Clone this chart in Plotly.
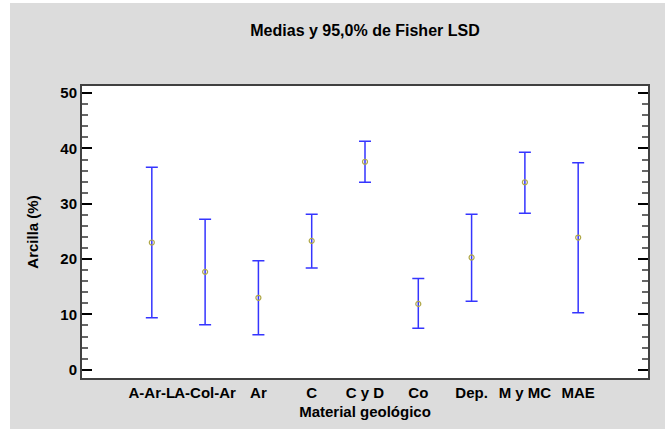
import plotly.graph_objects as go

categories = ["A-Ar-L", "A-Col-Ar", "Ar", "C", "C y D", "Co", "Dep.", "M y MC", "MAE"]
means = [23.0, 17.7, 13.0, 23.3, 37.6, 11.9, 20.3, 33.9, 23.9]
lower = [9.4, 8.15, 6.3, 18.4, 33.9, 7.5, 12.4, 28.3, 10.3]
upper = [36.6, 27.2, 19.7, 28.1, 41.3, 16.5, 28.1, 39.3, 37.4]

W, H = 665, 429
L, R, T, B = 82, 17, 86, 51
pw, ph = W - L - R, H - T - B

def px_x(p):
    return (p - L) / pw

def px_y(p):
    return (H - B - p) / ph

FONT = "Liberation Sans, Arial, sans-serif"
FS = 15

fig = go.Figure()
fig.add_trace(go.Scatter(
    x=categories, y=means, mode="markers",
    marker=dict(symbol="circle-open", size=5, color="#b0a848", line=dict(width=1.2, color="#b0a848")),
    error_y=dict(type="data", symmetric=False,
                 array=[u - m for u, m in zip(upper, means)],
                 arrayminus=[m - l for m, l in zip(means, lower)],
                 color="#3535ff", thickness=1.5, width=6),
    showlegend=False,
))

fig.update_layout(
    width=W, height=H,
    margin=dict(l=L, r=R, t=T, b=B, pad=0),
    paper_bgcolor="#dcdcdc", plot_bgcolor="white",
    title=dict(text="Medias y 95,0% de Fisher LSD", x=0.5, xref="paper", xanchor="center",
               y=1 - 30 / H, yref="container", yanchor="middle",
               font=dict(family=FONT, size=16, color="black", weight="bold")),
    shapes=[
        dict(type="rect", xref="paper", yref="paper", x0=px_x(0), x1=px_x(10), y0=px_y(H), y1=px_y(0),
             fillcolor="white", line=dict(width=0), layer="below"),
        dict(type="rect", xref="paper", yref="paper", x0=px_x(0), x1=px_x(W), y0=px_y(3), y1=px_y(0),
             fillcolor="white", line=dict(width=0), layer="below"),
    ],
)

fig.update_xaxes(
    type="category", range=[-1.31, 9.31], showgrid=False, zeroline=False,
    showline=True, linecolor="#404040", linewidth=2, mirror=True, ticks="",
    tickangle=0, tickfont=dict(family=FONT, size=FS, color="black", weight="bold"),
    title=dict(text="Material geológico", standoff=6,
               font=dict(family=FONT, size=FS, color="black", weight="bold")),
)
fig.update_yaxes(
    range=[-1.5, 51.3], tickvals=[0, 10, 20, 30, 40, 50], showgrid=False, zeroline=False,
    showline=True, linecolor="#404040", linewidth=2, mirror="allticks",
    ticks="inside", ticklen=10, tickwidth=1.5, tickcolor="black",
    minor=dict(dtick=2, tick0=0, ticks="inside", ticklen=6, tickwidth=1.5, tickcolor="#666"),
    tickfont=dict(family=FONT, size=FS, color="black", weight="bold"),
    title=dict(text="Arcilla (%)", standoff=18,
               font=dict(family=FONT, size=FS, color="black", weight="bold")),
)

fig.write_html("out.html", config={"displayModeBar": False},
               post_script="document.body.style.margin='0px';")
